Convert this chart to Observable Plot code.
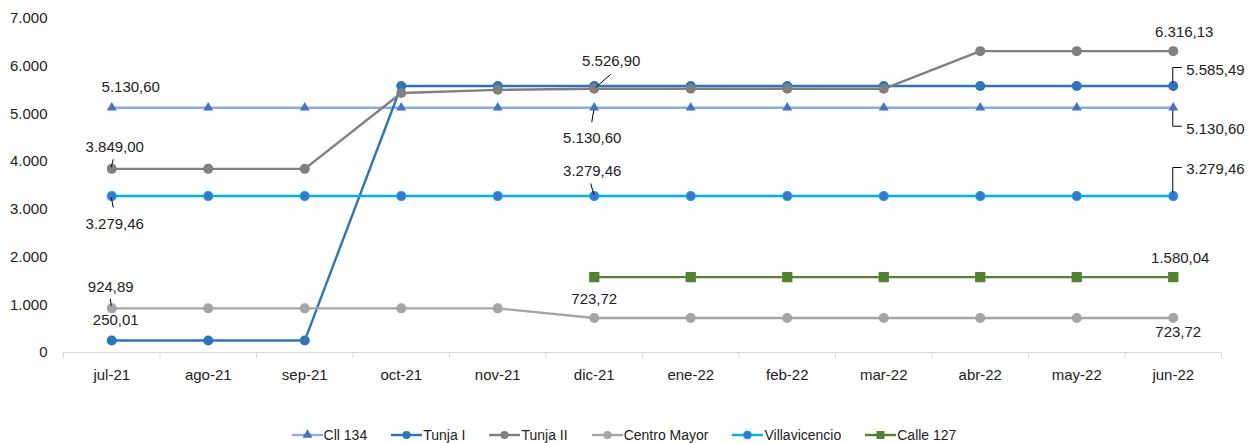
<!DOCTYPE html>
<html><head><meta charset="utf-8">
<script src="https://cdn.jsdelivr.net/npm/d3@7"></script>
<script src="https://cdn.jsdelivr.net/npm/@observablehq/plot@0.6"></script>
<style>
html,body{margin:0;padding:0;background:#fff;}
body{font-family:"Liberation Sans",Arial,sans-serif;color:#222;width:1248px;height:443px;overflow:hidden;}
#legend{display:flex;justify-content:center;align-items:center;gap:24px;font-size:14px;height:20px;margin-top:25px;color:#222;padding-left:0px}
.item{display:flex;align-items:center;gap:1px;white-space:nowrap}
</style></head><body><div id="chart"></div><div id="legend"></div>
<script>
const months = ["jul-21","ago-21","sep-21","oct-21","nov-21","dic-21","ene-22","feb-22","mar-22","abr-22","may-22","jun-22"];
const seriesNames = ["Cll 134","Tunja I","Tunja II","Centro Mayor","Villavicencio","Calle 127"];
const cll134 = [5130.60,5130.60,5130.60,5130.60,5130.60,5130.60,5130.60,5130.60,5130.60,5130.60,5130.60,5130.60];
const tunjaI = [250.01,250.01,250.01,5585.49,5585.49,5585.49,5585.49,5585.49,5585.49,5585.49,5585.49,5585.49];
const tunjaII = [3849.00,3849.00,3849.00,5440,5505,5526.90,5526.90,5526.90,5526.90,6316.13,6316.13,6316.13];
const centroMayor = [924.89,924.89,924.89,924.89,924.89,723.72,723.72,723.72,723.72,723.72,723.72,723.72];
const villavicencio = [3279.46,3279.46,3279.46,3279.46,3279.46,3279.46,3279.46,3279.46,3279.46,3279.46,3279.46,3279.46];
const calle127 = [null,null,null,null,null,1580.04,1580.04,1580.04,1580.04,1580.04,1580.04,1580.04];
const yTicks = [0,1000,2000,3000,4000,5000,6000,7000];

const seriesValues = [cll134, tunjaI, tunjaII, centroMayor, villavicencio, calle127];
const style = {
  "Cll 134":      {line:"#8FAADC", symbol:"triangle", fill:"#4472C4", stroke:"none", r:3.7},
  "Tunja I":      {line:"#2E75B6", symbol:"circle",   fill:"#2E75B6", stroke:"none", r:5},
  "Tunja II":     {line:"#808080", symbol:"circle",   fill:"#808080", stroke:"none", r:5},
  "Centro Mayor": {line:"#A5A5A5", symbol:"circle",   fill:"#A5A5A5", stroke:"none", r:5},
  "Villavicencio":{line:"#00B0F0", symbol:"circle",   fill:"#4472C4", stroke:"#00B0F0", r:4.5},
  "Calle 127":    {line:"#548235", symbol:"square",   fill:"#548235", stroke:"none", r:5.8}
};

const data = [];
seriesNames.forEach((s, k) => seriesValues[k].forEach((v, i) => { if (v != null) data.push({series:s, i, value:v}); }));

const loc = d3.formatLocale({decimal:",", thousands:".", grouping:[3], currency:["",""]});
const fmtTick = loc.format(",d");
const fmtVal = loc.format(",.2f");

// annotation placement (pixel offsets from the point)
const ann = [
  {series:"Cll 134", i:0, dx:19, dy:-21, anchor:"middle"},
  {series:"Tunja II", i:0, dx:3, dy:-22, anchor:"middle", leader:[[2,-9],[0,-1]]},
  {series:"Villavicencio", i:0, dx:3, dy:28, anchor:"middle", leader:[[0,2],[2,12]]},
  {series:"Centro Mayor", i:0, dx:-1, dy:-21, anchor:"middle", leader:[[-1,-9],[0,-2]]},
  {series:"Tunja I", i:0, dx:4, dy:-20, anchor:"middle"},
  {series:"Tunja II", i:5, dx:17, dy:-28, anchor:"middle", leader:[[17,-14],[2,-1]]},
  {series:"Cll 134", i:5, dx:-2, dy:30, anchor:"middle", leader:[[-2,15],[0,3]]},
  {series:"Villavicencio", i:5, dx:-2, dy:-25, anchor:"middle", leader:[[-3,-12],[0,-1]]},
  {series:"Centro Mayor", i:5, dx:0, dy:-19, anchor:"middle"},
  {series:"Tunja II", i:11, dx:11, dy:-19, anchor:"middle"},
  {series:"Tunja I", i:11, dx:13, dy:-16, anchor:"start", leader:[[0,-3],[0,-18],[9,-18]]},
  {series:"Cll 134", i:11, dx:13, dy:21, anchor:"start", leader:[[0,3],[0,19],[9,19]]},
  {series:"Villavicencio", i:11, dx:13, dy:-27, anchor:"start", leader:[[0,-3],[0,-28],[9,-28]]},
  {series:"Calle 127", i:11, dx:7, dy:-19, anchor:"middle"},
  {series:"Centro Mayor", i:11, dx:5, dy:14, anchor:"middle"}
];
ann.forEach(a => { a.value = seriesValues[seriesNames.indexOf(a.series)][a.i]; });

const marks = [
  Plot.ruleY([0], {stroke:"#D9D9D9", strokeWidth:1}),
  Plot.axisX({ticks: d3.range(13).map(i => i - 0.5), tickFormat: () => "", tickSize: 6, stroke:"#D9D9D9", label: null}),
  Plot.axisX({ticks: d3.range(12), tickFormat: i => months[i], tickSize: 0, tickPadding: 17, fontSize: 15, fill:"#222", label: null}),
  Plot.axisY({ticks: yTicks, tickFormat: fmtTick, tickSize: 0, tickPadding: 16, fontSize: 15, fill:"#222", label: null})
];
seriesNames.forEach(s => {
  const st = style[s];
  const d = data.filter(r => r.series === s);
  marks.push(Plot.line(d, {x:"i", y:"value", stroke: st.line, strokeWidth: 2.4}));
});
seriesNames.forEach(s => {
  const st = style[s];
  const d = data.filter(r => r.series === s);
  marks.push(Plot.dot(d, {x:"i", y:"value", symbol: st.symbol, r: st.r, fill: st.fill, stroke: st.stroke, strokeWidth: 1.2}));
});
["middle","start"].forEach(anchor => {
  const sub = ann.filter(a => a.anchor === anchor);
  marks.push(Plot.text(sub, {
    x:"i", y:"value", text: a => fmtVal(a.value),
    textAnchor: anchor, fontSize: 15, fill:"#222",
    render: (index, scales, values, dims, ctx, next) => {
      const g = next(index, scales, values, dims, ctx);
      d3.select(g).selectAll("text").each(function(_, k) {
        const a = sub[index[k]];
        d3.select(this).attr("transform", `translate(${values.x[index[k]] + a.dx},${values.y[index[k]] + a.dy})`);
      });
      return g;
    }
  }));
});

const plot = Plot.plot({
  width: 1248, height: 400,
  marginLeft: 63, marginRight: 27, marginTop: 18, marginBottom: 48,
  x: {type:"linear", domain:[-0.5, 11.5], label: null},
  y: {domain:[0, 7000], label: null},
  style: {fontFamily: '"Liberation Sans",Arial,sans-serif', fontSize:"15px", color:"#222", background:"#fff", overflow:"visible"},
  marks
});
document.getElementById("chart").append(plot);

// leader lines through the plot's scales
const sx = plot.scale("x"), sy = plot.scale("y");
const svg = d3.select(plot);
ann.filter(a => a.leader).forEach(a => {
  const px = sx.apply(a.i), py = sy.apply(a.value);
  svg.append("path")
    .attr("d", d3.line()(a.leader.map(([ox, oy]) => [px + ox, py + oy])))
    .attr("fill", "none").attr("stroke", "#000").attr("stroke-width", 1);
});

// legend
const legend = d3.select("#legend");
seriesNames.forEach(s => {
  const st = style[s];
  const item = legend.append("div").attr("class", "item");
  const sw = item.append("svg").attr("width", 31).attr("height", 14);
  sw.append("line").attr("x1", 0).attr("x2", 31).attr("y1", 7).attr("y2", 7).attr("stroke", st.line).attr("stroke-width", 2.4);
  const sym = d3.symbol().type(st.symbol === "triangle" ? d3.symbolTriangle : st.symbol === "square" ? d3.symbolSquare : d3.symbolCircle)
    .size(st.symbol === "square" ? 64 : st.symbol === "triangle" ? 42 : 50);
  sw.append("path").attr("d", sym()).attr("transform", "translate(15.5,7)")
    .attr("fill", st.fill).attr("stroke", st.stroke).attr("stroke-width", 1);
  item.append("span").text(s);
});
</script>
</body></html>
